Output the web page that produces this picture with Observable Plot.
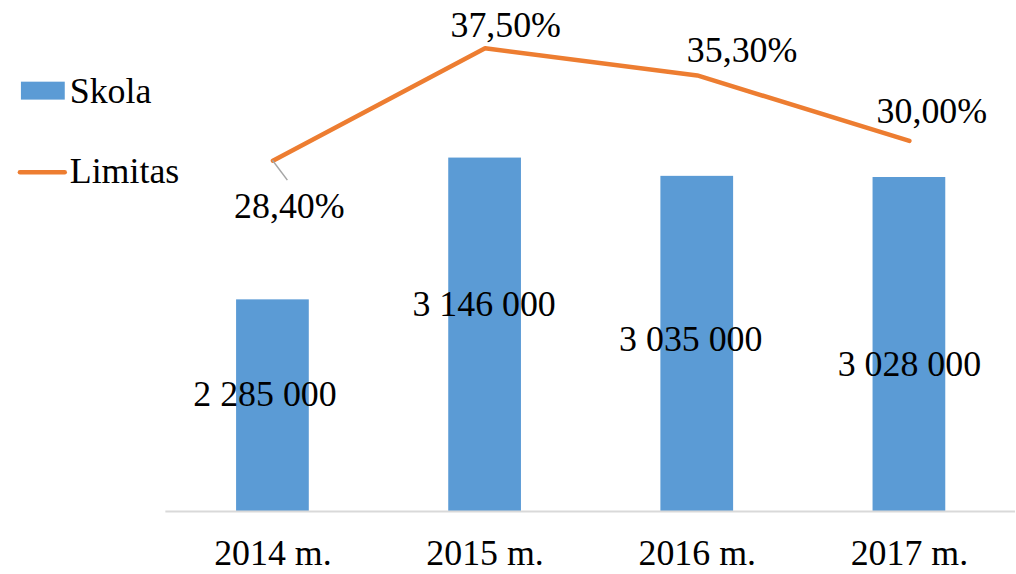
<!DOCTYPE html>
<html><head><meta charset="utf-8">
<script src="https://cdn.jsdelivr.net/npm/d3@7"></script>
<script src="https://cdn.jsdelivr.net/npm/@observablehq/plot@0.6"></script>
<style>
body{margin:0;background:#fff;overflow:hidden;}
#wrap{position:relative;width:1016px;height:574px;overflow:hidden;}
</style></head><body><div id="wrap"></div>
<script>
// ---- data ----
const years = ["2014 m.", "2015 m.", "2016 m.", "2017 m."];
const skola = [2285000, 3146000, 3035000, 3028000];
const limitas = [28.4, 37.5, 35.3, 30.0];
const skolaLabels = ["2 285 000", "3 146 000", "3 035 000", "3 028 000"];
const limitasLabels = ["28,40%", "37,50%", "35,30%", "30,00%"];
const seriesNames = ["Skola", "Limitas"];

// ---- layout / style ----
const BLUE = "#5B9BD5", ORANGE = "#ED7D31";
const FONT = "'Liberation Serif','Times New Roman',serif";
const Y_MIN = 1000000, Y_MAX = 4000000, PCT_MAX = 40; // primary & secondary axis ranges
const toPrimary = p => Y_MIN + p / PCT_MAX * (Y_MAX - Y_MIN);
const barLabelOffsets = [[-8, 95], [-1, 147], [-6.5, 164], [0, 187.5]];
const lineLabelOffsets = [[16.5, 46], [20.7, -22.5], [45, -25], [22.5, -29.5]];

const rows = years.map((y, i) => ({year: y, skola: skola[i], limitas: limitas[i], lim: toPrimary(limitas[i]), sl: skolaLabels[i], ll: limitasLabels[i]}));

const marks = [
  Plot.barY(rows, {x: "year", y1: Y_MIN, y2: "skola", fill: BLUE}),
  Plot.ruleY([Y_MIN], {stroke: "#d9d9d9", strokeWidth: 2}),
  Plot.line(rows, {x: "year", y: "lim", stroke: ORANGE, strokeWidth: 4.5, strokeLinejoin: "round", strokeLinecap: "round"})
];
rows.forEach((r, i) => {
  marks.push(Plot.text([r], {x: "year", y: "skola", text: "sl", fill: "#000", dx: barLabelOffsets[i][0], dy: barLabelOffsets[i][1]}));
  marks.push(Plot.text([r], {x: "year", y: "lim", text: "ll", fill: "#000", dx: lineLabelOffsets[i][0], dy: lineLabelOffsets[i][1]}));
});

const plot = Plot.plot({
  width: 1020, height: 574,
  marginLeft: 166, marginRight: 1, marginTop: 17, marginBottom: 61,
  style: {fontFamily: FONT, fontSize: "36px", color: "#000", background: "#fff"},
  x: {domain: years, paddingInner: 0.658, paddingOuter: 0.329, tickSize: 0, tickPadding: 28, label: null},
  y: {domain: [Y_MIN, Y_MAX], axis: null},
  marks
});

const svg = d3.select(plot);
const xs = plot.scale("x"), ys = plot.scale("y");
// leader line for first line label
const lx = xs.apply(years[0]) + xs.bandwidth / 2, ly = ys.apply(rows[0].lim);
svg.append("line").attr("x1", lx).attr("y1", ly).attr("x2", lx + 15).attr("y2", ly + 20)
  .attr("stroke", "#a6a6a6").attr("stroke-width", 1.5);

// legend
const lg = svg.append("g").attr("font-family", FONT).attr("font-size", 36).attr("fill", "#000").attr("text-anchor", "start");
lg.append("rect").attr("x", 21).attr("y", 82).attr("width", 44).attr("height", 18).attr("fill", BLUE);
lg.append("text").attr("x", 70).attr("y", 103).attr("text-anchor", "start").text(seriesNames[0]);
lg.append("line").attr("x1", 20).attr("x2", 65).attr("y1", 173).attr("y2", 173).attr("stroke", ORANGE).attr("stroke-width", 4.5).attr("stroke-linecap", "round");
lg.append("text").attr("x", 70).attr("y", 184).attr("text-anchor", "start").text(seriesNames[1]);

document.getElementById("wrap").appendChild(plot);
</script></body></html>
